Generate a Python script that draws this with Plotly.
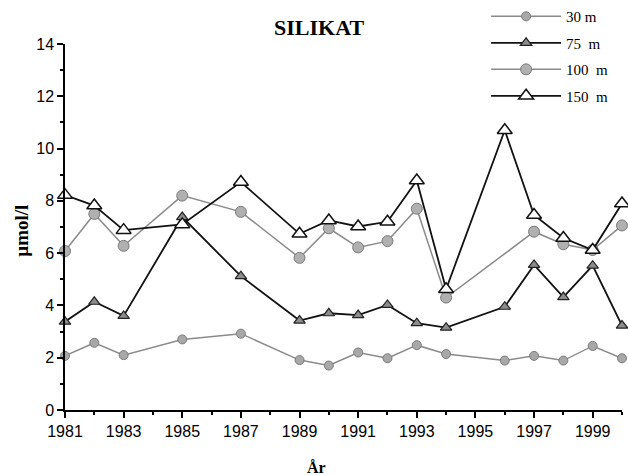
import plotly.graph_objects as go

years = [1981, 1982, 1983, 1985, 1987, 1989, 1990, 1991, 1992, 1993, 1994, 1996, 1997, 1998, 1999, 2000]
years_100 = [1981, 1982, 1983, 1985, 1987, 1989, 1990, 1991, 1992, 1993, 1994, 1997, 1998, 1999, 2000]

m30 = [2.07, 2.57, 2.1, 2.7, 2.92, 1.91, 1.7, 2.2, 1.98, 2.48, 2.14, 1.89, 2.07, 1.89, 2.45, 1.98]
m75 = [3.38, 4.14, 3.6, 7.38, 5.12, 3.42, 3.7, 3.63, 4.02, 3.32, 3.15, 3.95, 5.55, 4.32, 5.52, 3.23]
m100 = [6.08, 7.5, 6.28, 8.2, 7.58, 5.82, 6.95, 6.22, 6.46, 7.7, 4.3, 6.82, 6.34, 6.12, 7.06]
m150 = [8.22, 7.82, 6.88, 7.1, 8.72, 6.74, 7.25, 7.02, 7.2, 8.78, 4.62, 10.7, 7.46, 6.58, 6.12, 7.9]

serif = "Liberation Serif"
sans = "Liberation Sans"

fig = go.Figure()
fig.add_trace(go.Scatter(x=years, y=m30, name="30 m", mode="lines+markers", legendgroup="a",
                         line=dict(color="#8a8a8a", width=1.5),
                         marker=dict(symbol="circle", size=9, color="#a8a8a8",
                                     line=dict(color="#7a7a7a", width=1)),
                         cliponaxis=False))
fig.add_trace(go.Scatter(x=years, y=m75, name="75  m", mode="lines+markers", legendgroup="b",
                         line=dict(color="#111111", width=1.8),
                         marker=dict(symbol="triangle-up", size=10, color="#8c8c8c",
                                     line=dict(color="#222222", width=1.2)),
                         cliponaxis=False))
fig.add_trace(go.Scatter(x=years_100, y=m100, name="100  m", mode="lines+markers", legendgroup="c",
                         line=dict(color="#8a8a8a", width=1.5),
                         marker=dict(symbol="circle", size=11, color="#b0b0b0",
                                     line=dict(color="#7a7a7a", width=1)),
                         cliponaxis=False))
fig.add_trace(go.Scatter(x=years, y=m150, name="150  m", mode="lines+markers", legendgroup="d",
                         line=dict(color="#111111", width=1.8),
                         marker=dict(symbol="triangle-up", size=13, color="white",
                                     line=dict(color="#111111", width=1.5)),
                         cliponaxis=False))

fig.update_layout(
    width=628, height=475,
    margin=dict(l=65, r=6, t=44, b=65, autoexpand=False),
    paper_bgcolor="white", plot_bgcolor="white",
    title=dict(text="<b>SILIKAT</b>", x=0.508, xanchor="center", y=0.942, yanchor="middle",
               font=dict(family=serif, size=22, color="black")),
    showlegend=True,
    legend=dict(x=0.756, xanchor="left", y=1.12, yanchor="top", traceorder="grouped",
                font=dict(family=serif, size=15, color="black"), tracegroupgap=4,
                bgcolor="rgba(0,0,0,0)", itemwidth=70),
    xaxis=dict(range=[1981, 2000], tickmode="linear", tick0=1981, dtick=2,
               showgrid=False, zeroline=False, showline=True, linecolor="black", linewidth=1.5,
               ticks="outside", ticklen=6, tickwidth=1.5, tickcolor="black",
               minor=dict(dtick=1, ticks="outside", ticklen=3, tickcolor="black"),
               tickfont=dict(family=sans, size=16, color="black")),
    yaxis=dict(range=[0, 14], tickmode="linear", tick0=0, dtick=2,
               showgrid=False, zeroline=False, showline=True, linecolor="black", linewidth=1.5,
               ticks="outside", ticklen=6, tickwidth=1.5, tickcolor="black",
               minor=dict(dtick=1, ticks="outside", ticklen=3, tickcolor="black"),
               tickfont=dict(family=sans, size=16, color="black")),
    annotations=[
        dict(text="<b>År</b>", xref="paper", yref="paper", x=0.451, y=-0.156,
             xanchor="center", yanchor="middle", showarrow=False,
             font=dict(family=serif, size=16, color="black")),
        dict(text="<b>µmol/l</b>", xref="paper", yref="paper", x=-0.077, y=0.49,
             xanchor="center", yanchor="middle", showarrow=False, textangle=-90,
             font=dict(family=serif, size=19, color="black")),
    ],
)

fig.write_html("out.html", config={"displayModeBar": False},
               post_script="document.body.style.margin='0';")
